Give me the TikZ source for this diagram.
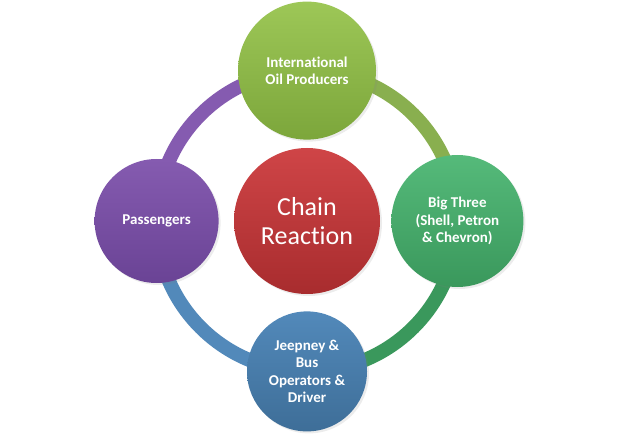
\documentclass[tikz,border=0pt]{standalone}
\usepackage{fontspec}
\setmainfont{Carlito}[Ligatures=NoCommon]
\usetikzlibrary{positioning,backgrounds,shadows}

\definecolor{oiltop}{HTML}{9DC757}
\definecolor{oilbot}{HTML}{7CA63B}
\definecolor{bigtop}{HTML}{55BA7A}
\definecolor{bigbot}{HTML}{3A985C}
\definecolor{jeeptop}{HTML}{5289BA}
\definecolor{jeepbot}{HTML}{3E6E98}
\definecolor{passtop}{HTML}{855BB0}
\definecolor{passbot}{HTML}{6A4395}
\definecolor{hubtop}{HTML}{CF4547}
\definecolor{hubbot}{HTML}{A82C2E}

\begin{document}
\begin{tikzpicture}[x=1pt,y=1pt,
        every node/.style={circle,inner sep=0pt,text=white,align=center,
          drop shadow={opacity=0.15,shadow xshift=2pt,shadow yshift=-2pt}},
        actor/.style={font=\bfseries\fontsize{15}{17.5}\selectfont},
        hub/.style={font=\fontsize{26}{29}\selectfont},
        ring/.style={line width=14pt,line cap=butt}]
   \useasboundingbox (0,0) rectangle (624,437);
   \node (R) [hub,minimum size=146pt,top color=hubtop,bottom color=hubbot] at (307,216) {Chain\\Reaction};
   \node (O) [actor,minimum size=138pt,above=8pt of R,top color=oiltop,bottom color=oilbot] {International\\Oil Producers};
   \node (B) [actor,minimum size=132pt,right=11pt of R,top color=bigtop,bottom color=bigbot] {Big Three\\(Shell, Petron\\\& Chevron)};
   \node (J) [actor,minimum size=120pt,below=17pt of R,top color=jeeptop,bottom color=jeepbot] {Jeepney \&\\Bus\\Operators \&\\Driver};
   \node (P) [actor,minimum size=124pt,left=15pt of R,top color=passtop,bottom color=passbot] {Passengers};
   \begin{scope}[on background layer]
      \draw[ring,oilbot!90!white] (O.center) to[out=0,in=90] (B.center);
      \draw[ring,bigbot] (B.center) to[out=-90,in=0] (J.center);
      \draw[ring,jeeptop] (J.center) to[out=180,in=-90] (P.center);
      \draw[ring,passtop] (P.center) to[out=90,in=180] (O.center);
   \end{scope}
\end{tikzpicture}
\end{document}
